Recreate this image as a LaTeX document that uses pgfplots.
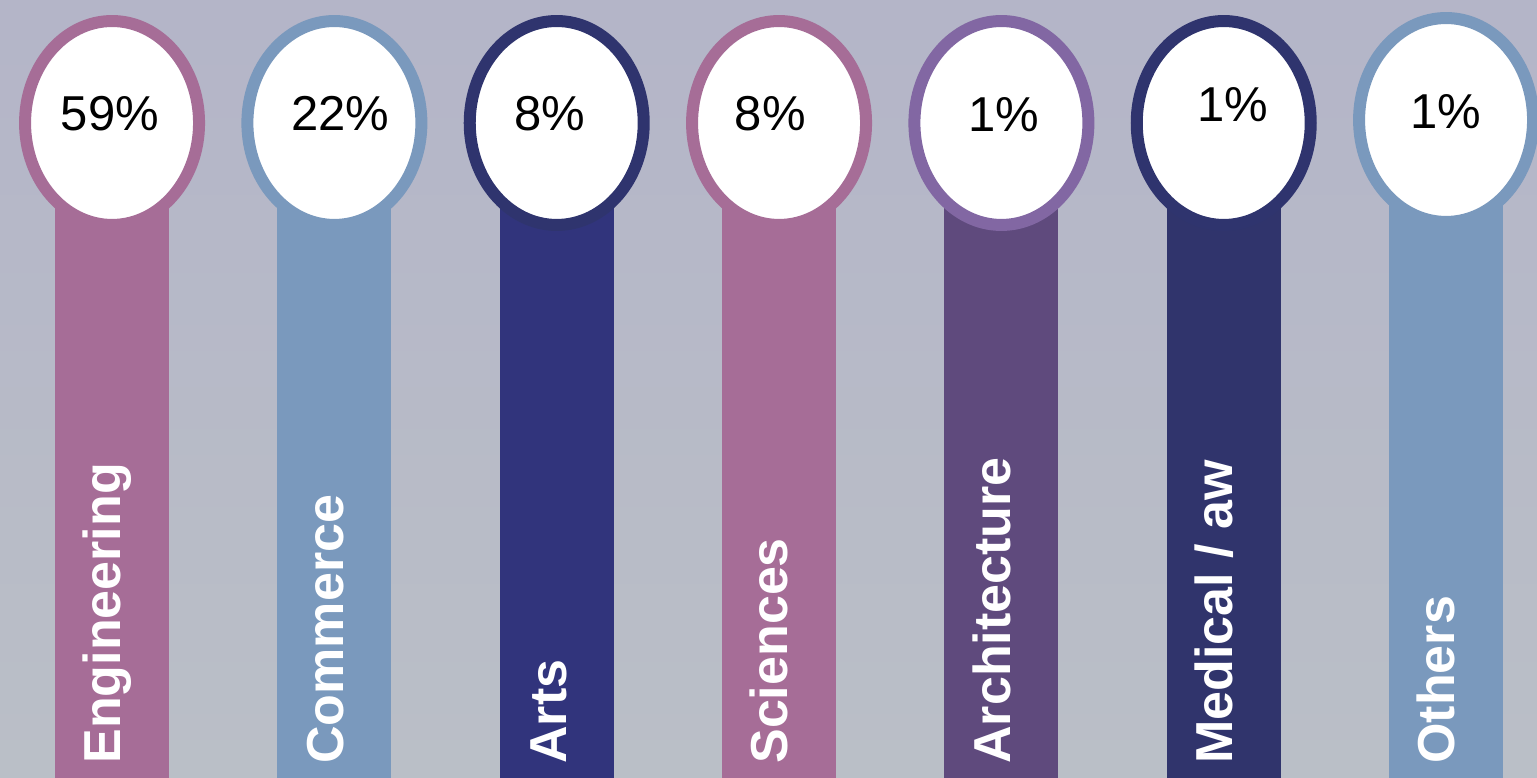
\documentclass[border=0pt]{standalone}
\usepackage{pgfplots}
\pgfplotsset{compat=1.18}
\usepackage{fontspec}
\setmainfont{Liberation Sans}

\definecolor{bgtop}{RGB}{180,181,200}
\definecolor{bgbot}{RGB}{186,191,199}
\definecolor{mauve}{RGB}{166,109,151}
\definecolor{steel}{RGB}{122,153,189}
\definecolor{navy}{RGB}{49,52,124}
\definecolor{navyring}{RGB}{47,52,110}
\definecolor{plum}{RGB}{95,74,125}
\definecolor{plumring}{RGB}{130,103,163}
\definecolor{navyb}{RGB}{48,52,108}

% one column = bar + ring; 1px = 0.5bp
\pgfplotsset{
  col/.style={ybar, bar width=57bp, bar shift=0pt, draw=none, fill=#1},
  ring/.style={only marks, mark=*, mark size=43.5bp,
    mark options={fill=white, draw=#1, line width=6bp, yscale=1.172}},
}

\begin{document}
\begin{tikzpicture}
\begin{axis}[
    width=768.5bp, height=389bp, scale only axis,
    xmin=-0.504, xmax=6.409,
    ymin=0, ymax=778,
    axis line style={draw=none}, ticks=none,
    axis background/.style={top color=bgtop, bottom color=bgbot},
    clip=false,
]

% columns (height in px from bottom, all equal)
\addplot[col=mauve] coordinates {(0,655)};
\addplot[col=steel] coordinates {(1,655)};
\addplot[col=navy]  coordinates {(2,655)};
\addplot[col=mauve] coordinates {(3,655)};
\addplot[col=plum]  coordinates {(4,655)};
\addplot[col=navyb] coordinates {(5,655)};
\addplot[col=steel] coordinates {(6,655)};

% rings on top
\addplot[ring=mauve]    coordinates {(0,655)};
\addplot[ring=steel]    coordinates {(1,655)};
\addplot[ring=navyring] coordinates {(2,655)};
\addplot[ring=mauve]    coordinates {(3,655)};
\addplot[ring=plumring] coordinates {(4,655)};
\addplot[ring=navyring] coordinates {(5,655)};
\addplot[ring=steel]    coordinates {(6,658)};

% percentages
\addplot[draw=none, mark=none, nodes near coords={\pgfplotspointmeta\%},
    point meta=explicit symbolic,
    nodes near coords style={anchor=center, inner sep=0pt, text=black,
      font=\fontsize{24.5bp}{28bp}\selectfont}]
  coordinates {
    (-0.01,664) [59]
    (1.027,664) [22]
    (1.97,664) [8]
    (2.96,664) [8]
    (4.01,663) [1]
    (5.04,673) [1]
    (6.0,666) [1]
  };

% category names, rotated
\addplot[draw=none, mark=none, nodes near coords,
    point meta=explicit symbolic,
    nodes near coords style={rotate=90, anchor=base west, inner sep=0pt,
      text=white, font=\fontsize{26bp}{30bp}\selectfont\bfseries}]
  coordinates {
    (0.040,14) [Engineering]
    (1.040,14) [Commerce]
    (2.042,14) [Arts]
    (3.040,14) [Sciences]
    (4.040,14) [Architecture]
    (5.040,14) [Medical / aw]
    (6.040,14) [Others]
  };

\end{axis}
\end{tikzpicture}
\end{document}
